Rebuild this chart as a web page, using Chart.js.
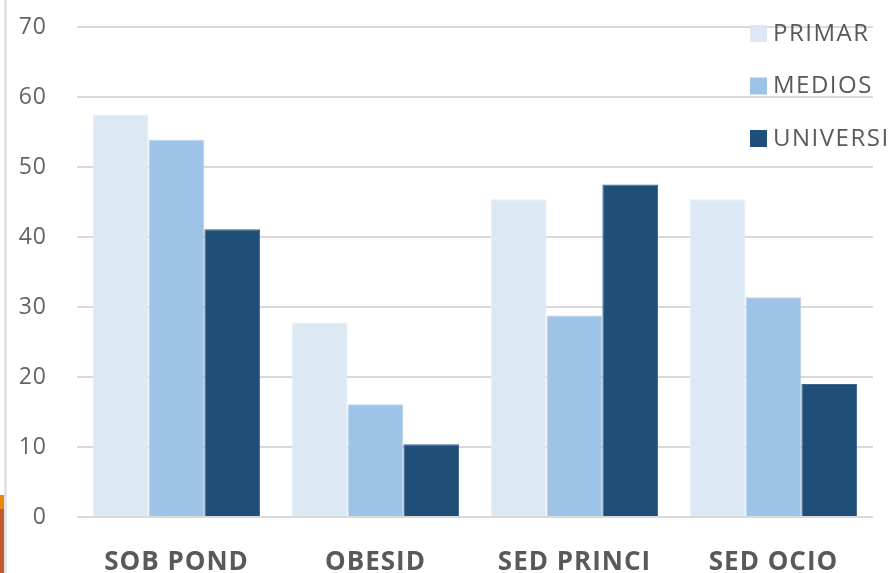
<!DOCTYPE html>
<html>
<head>
<meta charset="utf-8">
<script src="https://cdn.jsdelivr.net/npm/chart.js@4.4.1/dist/chart.umd.min.js"></script>
<style>
  html, body { margin: 0; padding: 0; background: #ffffff; }
  #wrap { width: 892px; height: 573px; position: relative; }
</style>
</head>
<body>
<div id="wrap"><canvas id="c" width="892" height="573"></canvas></div>
<script>
// Categories and series values
const categories = ['SOB POND', 'OBESID', 'SED PRINCI', 'SED OCIO'];
const primar = [57.5, 27.8, 45.4, 45.4];
const medios = [53.9, 16.1, 28.8, 31.4];
const universi = [41.1, 10.4, 47.5, 19.0];
const seriesNames = ['PRIMAR', 'MEDIOS', 'UNIVERSI'];
const yTicks = [0, 10, 20, 30, 40, 50, 60, 70];

const fills = ['#DDE8F5', '#9DC3E6', '#1F4E79'];
const edges = ['#E6EEF8', '#B4D1EC', '#3A6590'];

// Slight text tracking for all labels
const tracking = {
  id: 'tracking',
  beforeUpdate(chart) { chart.ctx.letterSpacing = '1px'; },
  beforeDraw(chart) { chart.ctx.letterSpacing = '1px'; }
};

// Slide edge decoration on the left side
const edgeDecor = {
  id: 'edgeDecor',
  beforeDraw(chart) {
    const ctx = chart.ctx;
    ctx.save();
    ctx.fillStyle = '#E4E4E4';
    ctx.fillRect(4, 0, 3, chart.height);
    ctx.fillStyle = '#E8870F';
    ctx.fillRect(0, 495, 4, 14);
    ctx.fillStyle = '#C05A2C';
    ctx.fillRect(0, 509, 4, chart.height - 509);
    ctx.restore();
  }
};

// Vertical legend in the upper right, built from the datasets
const sideLegend = {
  id: 'sideLegend',
  afterDatasetsDraw(chart) {
    const ctx = chart.ctx;
    ctx.save();
    ctx.letterSpacing = '1.5px';
    ctx.font = '24px "Open Sans", sans-serif';
    ctx.textBaseline = 'middle';
    ctx.textAlign = 'left';
    chart.data.datasets.forEach((ds, i) => {
      const cy = 33 + i * 52.5;
      ctx.fillStyle = ds.backgroundColor;
      ctx.fillRect(750, cy - 8, 17, 17);
      ctx.fillStyle = '#595959';
      ctx.fillText(ds.label, 773, cy + 1);
    });
    ctx.restore();
  }
};

const seriesData = [primar, medios, universi];

new Chart(document.getElementById('c'), {
  type: 'bar',
  data: {
    labels: categories,
    datasets: seriesNames.map((name, i) => ({
      label: name,
      data: seriesData[i],
      backgroundColor: fills[i],
      borderColor: edges[i],
      borderWidth: 1,
      categoryPercentage: 0.84,
      barPercentage: 1.0
    }))
  },
  options: {
    responsive: false,
    animation: false,
    devicePixelRatio: 1,
    layout: { padding: { top: 27, right: 19, left: 18, bottom: 0 } },
    plugins: {
      legend: { display: false },
      tooltip: { enabled: false }
    },
    scales: {
      x: {
        grid: { display: false },
        border: { display: false },
        ticks: {
          color: '#595959',
          font: { family: '"Open Sans", sans-serif', size: 26, weight: 'bold' },
          padding: 22
        },
        afterFit(s) { s.height = 56; s.paddingTop = 0; s.paddingBottom = 0; }
      },
      y: {
        min: 0,
        max: 70,
        afterBuildTicks(s) { s.ticks = yTicks.map(v => ({ value: v })); },
        grid: { color: '#D9D9D9', lineWidth: 2, tickLength: 0, drawTicks: false },
        border: { display: false },
        ticks: {
          color: '#646464',
          font: { family: '"Open Sans", sans-serif', size: 23 },
          padding: 30
        },
        afterFit(s) { s.width = 59; s.paddingTop = 0; s.paddingBottom = 0; }
      }
    }
  },
  plugins: [tracking, edgeDecor, sideLegend]
});
</script>
</body>
</html>
